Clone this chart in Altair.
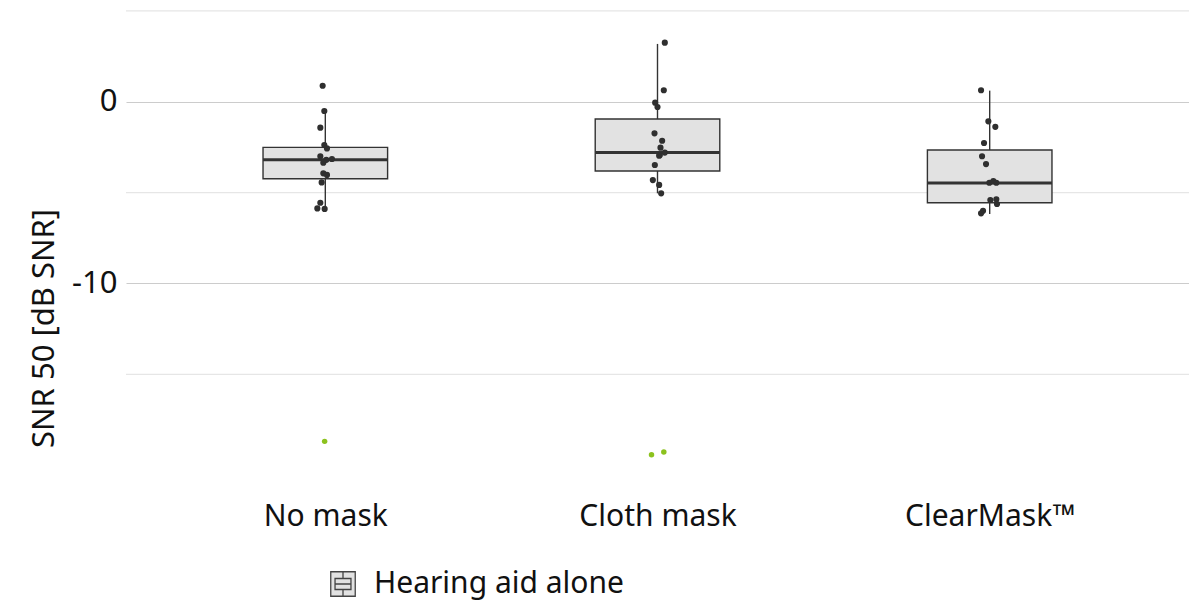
import json
import altair as alt
import pandas as pd

# ---------------- data ----------------
categories = ["No mask", "Cloth mask", "ClearMask™"]
legend_label = "Hearing aid alone"

# box statistics per category (dB SNR)
box_lower = [-5.90, -5.04, -6.18]
box_q1 = [-4.24, -3.81, -5.56]
box_median = [-3.19, -2.79, -4.47]
box_q3 = [-2.51, -0.95, -2.66]
box_upper = [-0.51, 3.18, 0.61]

# individual (jittered) points, hearing aid alone
nomask_vals = [0.88, -0.51, -1.43, -2.38, -2.57, -3.00, -3.20, -3.15, -3.36, -3.94, -4.03, -4.44, -5.56, -5.87, -5.90]
nomask_jit = [-0.008, -0.003, -0.015, -0.003, 0.005, -0.015, 0.003, 0.020, -0.006, -0.006, 0.005, -0.011, -0.015, -0.024, -0.002]
cloth_vals = [3.25, 0.63, -0.05, -0.29, -1.74, -2.15, -2.53, -2.80, -2.93, -2.97, -3.48, -4.31, -4.58, -5.04]
cloth_jit = [0.022, 0.019, -0.007, 0.000, -0.009, 0.014, 0.009, 0.022, 0.007, 0.005, -0.008, -0.014, 0.005, 0.011]
clear_vals = [0.63, -1.08, -1.38, -2.27, -3.00, -3.43, -4.46, -4.37, -4.46, -5.41, -5.37, -5.63, -6.00, -6.14]
clear_jit = [-0.026, -0.004, 0.017, -0.017, -0.023, -0.011, -0.001, 0.011, 0.020, 0.002, 0.020, 0.022, -0.020, -0.026]

# second (mostly cropped) group, green points
green_cat = [0, 1, 1]
green_vals = [-18.69, -19.43, -19.28]
green_jit = [-0.002, -0.018, 0.019]

# axes
y_major = [0, -10, -20]
y_minor = [5, -5, -15]
y_domain = [-19.66, 5.157]

# ---------------- tables ----------------
boxes = pd.DataFrame({
    "cat": [1, 2, 3],
    "lower": box_lower, "q1": box_q1, "median": box_median,
    "q3": box_q3, "upper": box_upper,
    "group": [legend_label] * 3,
})
boxes["left"] = boxes["cat"] - 0.1875
boxes["right"] = boxes["cat"] + 0.1875

rows = []
for i, (vals, jit) in enumerate([(nomask_vals, nomask_jit), (cloth_vals, cloth_jit), (clear_vals, clear_jit)]):
    for v, j in zip(vals, jit):
        rows.append({"cat": i + 1, "value": v, "jit": j})
pts = pd.DataFrame(rows)
green = pd.DataFrame({"cat": [c + 1 for c in green_cat], "value": green_vals, "jit": green_jit})
minor = pd.DataFrame({"value": y_minor})

FONT = "Noto Sans"
label_expr = "%s[datum.value - 1]" % json.dumps(categories, ensure_ascii=False)

xscale = alt.Scale(domain=[0.4, 3.6], nice=False, zero=False)
yscale = alt.Scale(domain=y_domain, nice=False, zero=False)

x_axis = alt.Axis(values=[1, 2, 3], labelExpr=label_expr, grid=False, ticks=False,
                  domain=False, labelFontSize=30, labelFont=FONT, labelColor="#111111",
                  labelPadding=42, title=None)
y_axis = alt.Axis(values=y_major, grid=True, gridColor="#cccccc", gridWidth=1.2,
                  ticks=False, domain=False, labelFontSize=31, labelFont=FONT,
                  labelExpr="datum.value + ''",
                  labelColor="#111111", labelPadding=9,
                  title="SNR 50 [dB SNR]", titleFontSize=31, titleFont=FONT,
                  titleFontWeight="normal", titleColor="#111111",
                  titleAngle=-90, titleX=-82, titleY=320, titleAlign="center",
                  titleBaseline="middle")

minor_grid = alt.Chart(minor).mark_rule(color="#e6e6e6", strokeWidth=1.2, clip=True).encode(
    y=alt.Y("value:Q", scale=yscale, axis=y_axis),
    x=alt.value(0), x2=alt.value(1063),
)

whisker = alt.Chart(boxes).mark_rule(color="#333333", strokeWidth=1.4, clip=True).encode(
    x=alt.X("cat:Q", scale=xscale, axis=x_axis),
    y=alt.Y("lower:Q", scale=yscale, axis=y_axis),
    y2="upper:Q",
)

box = alt.Chart(boxes).mark_rect(stroke="#333333", strokeWidth=1.4, clip=True).encode(
    x=alt.X("left:Q", scale=xscale, axis=x_axis),
    x2="right:Q",
    y=alt.Y("q1:Q", scale=yscale, axis=y_axis),
    y2="q3:Q",
    fill=alt.Fill("group:N", scale=alt.Scale(range=["#e2e2e2"]),
                  legend=alt.Legend(title=None, orient="none", legendX=202, legendY=561,
                                    symbolType="M-1,-1H1V1H-1Z M-0.65,-0.45H0.65V0.45H-0.65Z M-0.65,0H0.65 M0,-1V-0.45 M0,0.45V1",
                                    symbolSize=600, symbolStrokeColor="#444444",
                                    symbolStrokeWidth=1.3, labelFontSize=30, labelFont=FONT,
                                    labelColor="#111111", labelOffset=16, labelLimit=0)),
)

med = alt.Chart(boxes).mark_rule(color="#333333", strokeWidth=3, clip=True).encode(
    x=alt.X("left:Q", scale=xscale, axis=x_axis),
    x2="right:Q",
    y=alt.Y("median:Q", scale=yscale, axis=y_axis),
)

dots = alt.Chart(pts).transform_calculate(xpos="datum.cat + datum.jit").mark_circle(
    color="#2f2f2f", size=38, opacity=1, clip=True
).encode(
    x=alt.X("xpos:Q", scale=xscale, axis=x_axis),
    y=alt.Y("value:Q", scale=yscale, axis=y_axis),
)

gdots = alt.Chart(green).transform_calculate(xpos="datum.cat + datum.jit").mark_circle(
    color="#8cc21e", size=30, opacity=1, clip=True
).encode(
    x=alt.X("xpos:Q", scale=xscale, axis=x_axis),
    y=alt.Y("value:Q", scale=yscale, axis=y_axis),
)

chart = alt.layer(minor_grid, whisker, box, med, dots, gdots).properties(
    width=1063, height=451,
    autosize=alt.AutoSizeParams(type="none"),
    padding={"left": 118, "top": 0, "right": 0, "bottom": 150},
    background="white",
).configure_view(stroke=None)

chart.save("out.html", embed_options={"renderer": "svg", "actions": False})
